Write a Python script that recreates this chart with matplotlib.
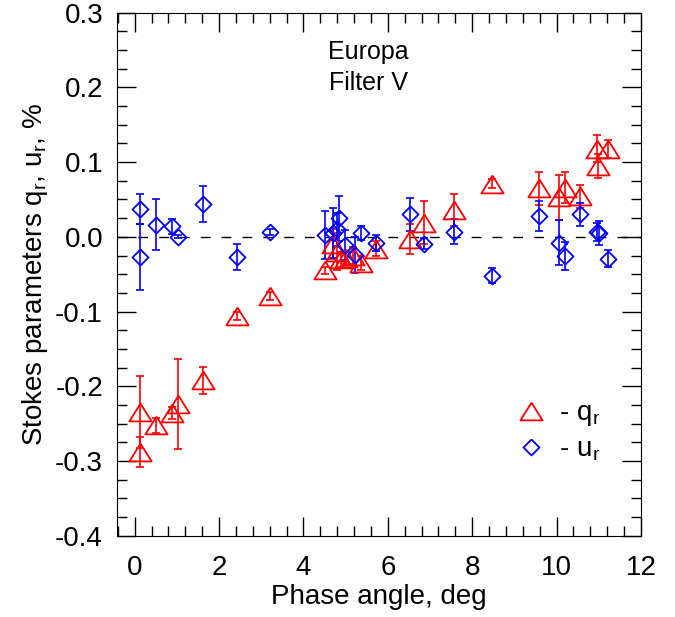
import matplotlib
matplotlib.use("Agg")
import matplotlib.pyplot as plt
from matplotlib.ticker import MultipleLocator

plt.rcParams['font.family'] = ['Liberation Sans', 'DejaVu Sans']

# q_r (red triangles): phase angle, value, error
q_phase = [0.12, 0.12, 0.50, 0.88, 1.03, 1.61, 2.42, 3.20,
           4.52, 4.70, 4.80, 4.88, 5.00, 5.17, 5.36, 5.73,
           6.52, 6.85, 7.56, 8.47, 9.58, 10.06, 10.20, 10.55,
           10.96, 10.98, 11.22]
q_val = [-0.234, -0.288, -0.252, -0.236, -0.224, -0.192, -0.106, -0.079,
         -0.045, -0.010, -0.020, -0.030, -0.028, -0.025, -0.035, -0.016,
         -0.003, 0.019, 0.036, 0.071, 0.065, 0.053, 0.066, 0.054,
         0.118, 0.095, 0.118]
q_err = [0.048, 0.020, 0.010, 0.008, 0.060, 0.018, 0.005, 0.005,
         0.005, 0.020, 0.025, 0.010, 0.008, 0.012, 0.010, 0.010,
         0.020, 0.029, 0.021, 0.006, 0.022, 0.030, 0.021, 0.015,
         0.018, 0.016, 0.012]

# u_r (blue diamonds)
u_phase = [0.12, 0.12, 0.50, 0.88, 1.03, 1.61, 2.42, 3.20,
           4.52, 4.70, 4.80, 4.84, 4.98, 5.21, 5.36, 5.73,
           6.52, 6.85, 7.56, 8.47, 9.58, 10.05, 10.20, 10.55,
           10.95, 11.00, 11.22]
u_val = [0.037, -0.027, 0.016, 0.014, 0.000, 0.044, -0.027, 0.007,
         0.002, 0.005, 0.010, 0.025, -0.011, -0.024, 0.005, -0.008,
         0.030, -0.009, 0.007, -0.052, 0.028, -0.008, -0.026, 0.030,
         0.007, 0.005, -0.029]
u_err = [0.020, 0.044, 0.034, 0.010, 0.002, 0.024, 0.017, 0.004,
         0.032, 0.033, 0.022, 0.030, 0.020, 0.024, 0.009, 0.011,
         0.022, 0.007, 0.017, 0.010, 0.020, 0.030, 0.019, 0.015,
         0.012, 0.016, 0.012]

tri = [(0, 0.8), (-1, -0.8), (1, -0.8), (0, 0.8)]
dia = [(0, 1), (1, 0), (0, -1), (-1, 0), (0, 1)]

fig = plt.figure(figsize=(6.75, 6.17), dpi=100)
ax = fig.add_axes([0.1733, 0.1318, 0.7763, 0.8476])

ax.axhline(0, color='black', lw=1.0, ls=(0, (7, 8)), zorder=1)

ax.errorbar(q_phase, q_val, yerr=q_err, fmt='none', ecolor='red',
            elinewidth=1.2, capsize=3, capthick=1.2, zorder=2)
ax.plot(q_phase, q_val, ls='none', marker=tri, ms=16, mfc='none',
        mec='red', mew=1.3, zorder=3, label=' - q$_\\mathregular{r}$')

ax.errorbar(u_phase, u_val, yerr=u_err, fmt='none', ecolor='blue',
            elinewidth=1.2, capsize=3, capthick=1.2, zorder=2)
ax.plot(u_phase, u_val, ls='none', marker=dia, ms=11.5, mfc='none',
        mec='blue', mew=1.3, zorder=3, label=' - u$_\\mathregular{r}$')

ax.set_xlim(-0.42, 12)
ax.set_ylim(-0.4, 0.3)
ax.xaxis.set_major_locator(MultipleLocator(2))
ax.xaxis.set_minor_locator(MultipleLocator(0.4))
ax.yaxis.set_major_locator(MultipleLocator(0.1))
ax.yaxis.set_minor_locator(MultipleLocator(0.025))
ax.tick_params(which='both', direction='in', top=True, right=True,
               labelsize=20)
ax.tick_params(which='major', length=14, width=1.0)
ax.tick_params(which='minor', length=7, width=1.0)
ax.tick_params(axis='x', which='major', pad=14)
ax.tick_params(axis='y', which='major', pad=10)
ax.yaxis.set_major_formatter(matplotlib.ticker.FuncFormatter(
    lambda v, p: '0.0' if abs(v) < 1e-9 else '%.1f' % v))

ax.set_xlabel('Phase angle, deg', fontsize=20, labelpad=2)
ax.set_ylabel('Stokes parameters q$_\\mathregular{r}$, u$_\\mathregular{r}$, %',
              fontsize=20, labelpad=4)

ax.text(0.48, 0.895, 'Europa\nFilter V', transform=ax.transAxes,
        ha='center', va='center', fontsize=18, linespacing=1.4)

ax.legend(loc='upper left', bbox_to_anchor=(0.74, 0.28), frameon=False,
          fontsize=20, handlelength=1.1, handletextpad=0.2,
          labelspacing=0.3, borderaxespad=0)

fig.savefig('out.png', dpi=100)
